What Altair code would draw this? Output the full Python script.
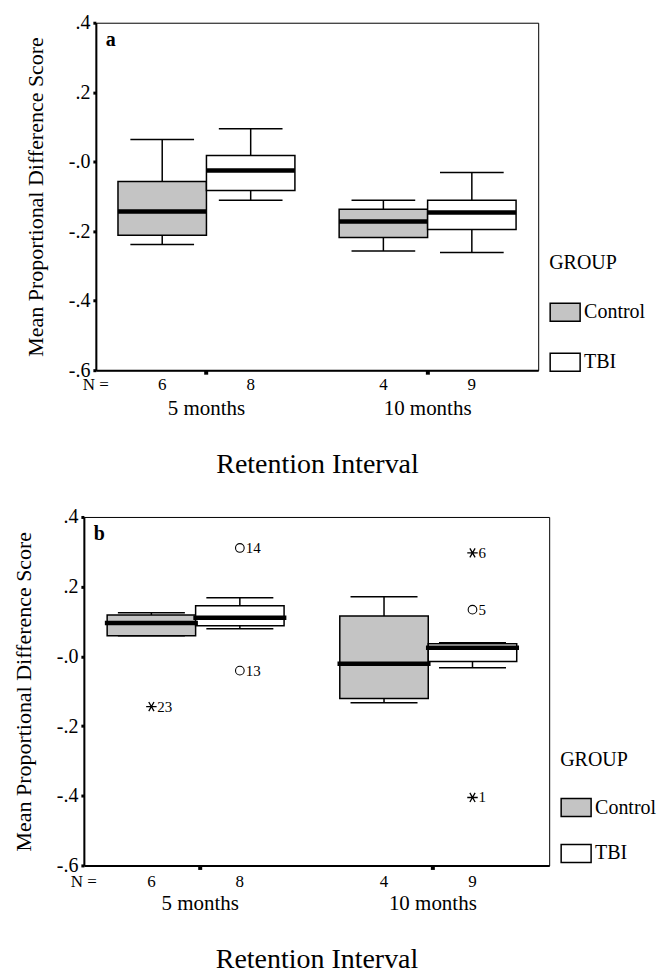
import altair as alt
import pandas as pd

# ---------------- data ----------------
intervals = ["5 months", "5 months", "10 months", "10 months"]
groups = ["Control", "TBI", "Control", "TBI"]
n_counts = [6, 8, 4, 9]
interval_order = ["5 months", "10 months"]
group_order = ["Control", "TBI"]

# panel a box statistics
a_lower = [-0.238, -0.111, -0.257, -0.261]
a_q1 = [-0.212, -0.083, -0.218, -0.195]
a_median = [-0.143, -0.025, -0.172, -0.146]
a_q3 = [-0.057, 0.018, -0.137, -0.111]
a_upper = [0.064, 0.095, -0.111, -0.031]

# panel b box statistics
b_lower = [0.059, 0.079, -0.133, -0.033]
b_q1 = [0.059, 0.088, -0.121, -0.015]
b_median = [0.096, 0.111, -0.021, 0.025]
b_q3 = [0.119, 0.145, 0.116, 0.036]
b_upper = [0.125, 0.168, 0.171, 0.039]

# panel b outliers / extremes
b_out_interval = ["5 months", "5 months", "5 months", "10 months", "10 months", "10 months"]
b_out_group = ["Control", "TBI", "TBI", "TBI", "TBI", "TBI"]
b_out_value = [-0.144, 0.311, -0.041, 0.297, 0.134, -0.405]
b_out_case = ["23", "14", "13", "6", "5", "1"]
b_out_kind = ["extreme", "outlier", "outlier", "extreme", "outlier", "extreme"]

y_ticks = [0.4, 0.2, 0.0, -0.2, -0.4, -0.6]

FONT = "Liberation Serif"
GRAY = "#c4c4c4"
ASTERISK = "M-1,0L1,0M-0.5,-0.866L0.5,0.866M-0.5,0.866L0.5,-0.866"
LEGEND_RECT = "M-1,-0.6H1V0.6H-1Z"


def panel(letter, lower, q1, med, q3, upper, width, height, leg_y, leg_title_pad,
          leg_row_pad, n_dy, out=None):
    df = pd.DataFrame({
        "interval": intervals, "group": groups, "n": n_counts,
        "lower": lower, "q1": q1, "median": med, "q3": q3, "upper": upper,
    })
    box_px = width * 0.2

    x = alt.X(
        "interval:N", sort=interval_order,
        scale=alt.Scale(paddingInner=0.2, paddingOuter=0.1),
        axis=alt.Axis(
            title="Retention Interval", labelAngle=0, labelFontSize=21,
            labelFont=FONT, titleFont=FONT,
            labelPadding=23, tickSize=4, tickWidth=4, tickColor="black",
            domainWidth=2, domainColor="black", labelColor="black",
            titleFontSize=28, titleFontWeight="normal", titlePadding=32,
            titleColor="black", grid=False,
        ),
    )
    xo = alt.XOffset("group:N", sort=group_order,
                     scale=alt.Scale(paddingInner=0, paddingOuter=0))
    yscale = alt.Scale(domain=[-0.6, 0.4], nice=False, zero=False)
    y_axis = alt.Axis(
        values=y_ticks,
        labelExpr="(datum.value < -0.001 || abs(datum.value) < 0.001 ? '-' : '') + '.' + format(abs(datum.value) * 10, '.0f')",
        title="Mean Proportional Difference Score", titleFontSize=22,
        labelFont=FONT, titleFont=FONT,
        titleFontWeight="normal", titleColor="black", titlePadding=21,
        labelFontSize=20, labelColor="black", labelPadding=3,
        tickSize=3, tickWidth=3, tickColor="black",
        domainWidth=2, domainColor="black", grid=False,
    )

    base = alt.Chart(df)
    whisk = base.mark_rule(color="black", strokeWidth=1.5).encode(
        x=x, xOffset=xo,
        y=alt.Y("lower:Q", scale=yscale, axis=y_axis), y2="upper:Q")
    box = base.mark_bar(stroke="black", strokeWidth=1.5, opacity=1).encode(
        x=x, xOffset=xo, y=alt.Y("q1:Q", scale=yscale), y2="q3:Q",
        fill=alt.Fill(
            "group:N",
            scale=alt.Scale(domain=group_order, range=[GRAY, "white"]),
            legend=alt.Legend(
                title="GROUP", orient="none", legendX=width + 11, legendY=leg_y,
                symbolType=LEGEND_RECT, symbolSize=900,
                symbolStrokeColor="black", symbolStrokeWidth=1.5,
                symbolOpacity=1, labelFontSize=20, labelColor="black",
                labelFont=FONT, titleFont=FONT,
                titleFontSize=20, titleFontWeight="normal", titleColor="black",
                titlePadding=leg_title_pad, rowPadding=leg_row_pad,
                labelOffset=3, padding=0,
            ),
        ),
    )
    cap_lo = base.mark_tick(color="black", thickness=1.5, size=box_px * 0.72,
                            opacity=1).encode(
        x=x, xOffset=xo, y=alt.Y("lower:Q", scale=yscale))
    cap_hi = base.mark_tick(color="black", thickness=1.5, size=box_px * 0.72,
                            opacity=1).encode(
        x=x, xOffset=xo, y=alt.Y("upper:Q", scale=yscale))
    median = base.mark_tick(color="black", thickness=4.5, size=box_px,
                            opacity=1).encode(
        x=x, xOffset=xo, y=alt.Y("median:Q", scale=yscale))
    n_text = base.mark_text(fontSize=17, color="black", baseline="middle",
                            font=FONT).encode(
        x=x, xOffset=xo, y=alt.value(height + n_dy), text="n:Q")
    n_lab = alt.Chart(pd.DataFrame({"t": ["N ="]})).mark_text(
        fontSize=17, color="black", baseline="middle", align="center",
        font=FONT).encode(
        x=alt.value(0), y=alt.value(height + n_dy), text="t:N")
    let = alt.Chart(pd.DataFrame({"t": [letter]})).mark_text(
        fontSize=20, fontWeight="bold", color="black", align="left",
        baseline="top", font=FONT).encode(x=alt.value(10), y=alt.value(7), text="t:N")

    layers = [whisk, box, cap_lo, cap_hi, median, n_text, n_lab, let]

    if out is not None:
        odf = pd.DataFrame(out)
        ob = alt.Chart(odf)
        circ = ob.transform_filter("datum.kind == 'outlier'").mark_point(
            shape="circle", filled=False, size=75, color="black",
            strokeWidth=1.1, opacity=1).encode(
            x=x, xOffset=xo, y=alt.Y("value:Q", scale=yscale))
        star = ob.transform_filter("datum.kind == 'extreme'").mark_point(
            shape=ASTERISK, filled=False, size=110, color="black",
            strokeWidth=1.3, opacity=1).encode(
            x=x, xOffset=xo, y=alt.Y("value:Q", scale=yscale))
        lab = ob.mark_text(align="left", dx=6, fontSize=15, color="black",
                           baseline="middle", font=FONT).encode(
            x=x, xOffset=xo, y=alt.Y("value:Q", scale=yscale), text="case:N")
        layers += [circ, star, lab]

    return alt.layer(*layers).properties(width=width, height=height)


def spacer(w):
    return alt.Chart(pd.DataFrame({"t": [""]})).mark_text().encode(
        text="t:N").properties(width=w, height=1,
                               view=alt.ViewBackground(stroke="transparent"))


pa = panel("a", a_lower, a_q1, a_median, a_q3, a_upper, 443, 348,
           leg_y=231, leg_title_pad=23, leg_row_pad=22, n_dy=15)
pb = panel("b", b_lower, b_q1, b_median, b_q3, b_upper, 466, 349,
           leg_y=233, leg_title_pad=22, leg_row_pad=18, n_dy=17,
           out={"interval": b_out_interval, "group": b_out_group,
                "value": b_out_value, "case": b_out_case, "kind": b_out_kind})

row_a = alt.hconcat(spacer(13), pa, spacing=0).resolve_scale(fill="independent")
row_b = alt.hconcat(spacer(1), pb, spacing=0).resolve_scale(fill="independent")

chart = alt.concat(row_a, row_b, columns=1, spacing=27).resolve_scale(
    fill="independent"
).properties(
    padding={"left": 0, "top": 3, "right": 5, "bottom": 5}
).configure(
    font=FONT, background="white"
).configure_view(stroke="black", strokeWidth=1)

chart.save("out.html", embed_options={"renderer": "svg", "actions": False})
